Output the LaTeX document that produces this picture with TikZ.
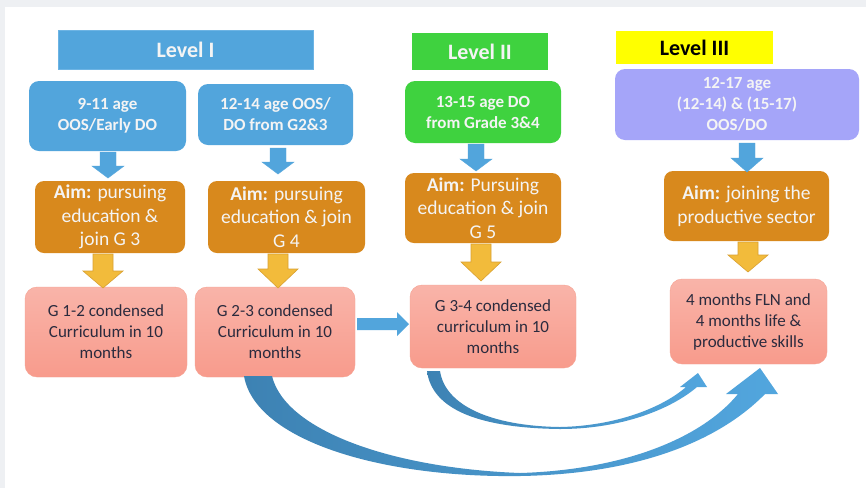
\documentclass[tikz,border=0pt]{standalone}
\usepackage{fontspec}
\setmainfont{Carlito}
\usepackage{tikz}
\usetikzlibrary{positioning}

\definecolor{lvlblue}{HTML}{52A5DC}
\definecolor{lvledge}{HTML}{6DB4E4}
\definecolor{lvlgreen}{HTML}{3FD23F}
\definecolor{lvlyellow}{HTML}{FFFF00}
\definecolor{lavender}{HTML}{A5A5F9}
\definecolor{aimorange}{HTML}{D8891D}
\definecolor{arrowyellow}{HTML}{F2BB3B}
\definecolor{arrowedge}{HTML}{D9A132}
\definecolor{pinktop}{HTML}{F9B4A9}
\definecolor{pinkbot}{HTML}{F89B8C}
\definecolor{pinkedge}{HTML}{F5A292}
\definecolor{darkarc}{HTML}{3D82B3}
\definecolor{lightarc}{HTML}{52A6DE}
\definecolor{paper}{HTML}{EEF0F3}
\definecolor{boxtext}{HTML}{F4F4F4}
\definecolor{inktext}{HTML}{2B2B3E}

% block arrow pointing down: style, x, top, head base, tip, shaft half, head half
\newcommand{\blockdown}[7]{%
  \draw[#1] (#2-#6,#3) -- (#2+#6,#3) -- (#2+#6,#4) -- (#2+#7,#4)
    -- (#2,#5) -- (#2-#7,#4) -- (#2-#6,#4) -- cycle;}

\begin{document}
\begin{tikzpicture}
    [ x=1pt, y=-1pt,
    every node/.style={align=center, inner sep=2pt},
    header/.style={font=\fontsize{22}{26}\selectfont\bfseries, text=boxtext},
    agebox/.style={rounded corners=10pt, font=\fontsize{17}{21}\selectfont\bfseries, text=boxtext},
    aimbox/.style={rounded corners=9pt, fill=aimorange, font=\fontsize{19.5}{23.5}\selectfont, text=boxtext},
    plan/.style={rounded corners=12pt, top color=pinktop, bottom color=pinkbot, draw=pinkedge,
      font=\fontsize{17}{21}\selectfont, text=inktext},
    bluearrow/.style={fill=lvlblue, draw=lvlblue},
    yellowarrow/.style={fill=arrowyellow, draw=arrowedge, line width=0.6pt},
    curved/.style={left color=darkarc, right color=lightarc}
    ]

    \useasboundingbox (0,0) rectangle (866,488);
    \fill[paper] (0,0) rectangle (866,488);
    \fill[white] (5,7) rectangle (866,488);

    % level headers
    \node[header, fill=lvlblue, draw=lvledge, minimum width=255pt, minimum height=39pt] (L1) at (185.5,49.5) {Level I};
    \node[header, fill=lvlgreen, minimum width=136pt, minimum height=37pt] (L2) at (480,51.5) {Level II};
    \node[header, fill=lvlyellow, text=black, minimum width=157pt, minimum height=33pt] (L3) at (694.5,47.5) {Level III};

    % target groups
    \node[agebox, fill=lvlblue, minimum width=157pt, minimum height=70pt] (A1) at (107.5,116) {9-11 age\\OOS/Early DO};
    \node[agebox, fill=lvlblue, minimum width=155pt, minimum height=61pt] (A2) at (275.5,114.5) {12-14 age OOS/\\DO from G2\&3};
    \node[agebox, fill=lvlgreen, minimum width=156pt, minimum height=62pt] (A3) at (483,112) {13-15 age DO\\from Grade 3\&4};
    \node[agebox, fill=lavender, minimum width=244pt, minimum height=71pt] (A4) at (737,104.5) {12-17 age\\(12-14) \& (15-17)\\OOS/DO};

    % aims
    \node[aimbox, minimum width=150pt, minimum height=72pt] (B1) at (110,217) {\textbf{Aim:} pursuing\\education \&\\join G 3};
    \node[aimbox, minimum width=157pt, minimum height=72pt] (B2) at (286.5,217) {\textbf{Aim:} pursuing\\education \& join\\G 4};
    \node[aimbox, minimum width=156pt, minimum height=70pt] (B3) at (483,208) {\textbf{Aim:} Pursuing\\education \& join\\G 5};
    \node[aimbox, minimum width=165pt, minimum height=70pt] (B4) at (746.5,206) {\textbf{Aim:} joining the\\productive sector};

    % programmes
    \node[plan, minimum width=162pt, minimum height=90pt] (C1) at (106,332) {G 1-2 condensed\\Curriculum in 10\\months};
    \node[plan, minimum width=160pt, minimum height=90pt] (C2) at (275,332) {G 2-3 condensed\\Curriculum in 10\\months};
    \node[plan, minimum width=166pt, minimum height=83pt] (C3) at (493,326.5) {G 3-4 condensed\\curriculum in 10\\months};
    \node[plan, minimum width=157pt, minimum height=85pt] (C4) at (748.5,321.5) {4 months FLN and\\4 months life \&\\productive skills};

    \blockdown{bluearrow}{108}{152}{166}{178}{8}{16}
    \blockdown{bluearrow}{278}{148}{162}{174}{8}{16}
    \blockdown{bluearrow}{476}{144}{159}{171}{8}{16}
    \blockdown{bluearrow}{747}{143}{158}{172}{8}{16}

    \blockdown{yellowarrow}{103}{254}{271}{288}{10}{20}
    \blockdown{yellowarrow}{278}{254}{269}{288}{10}{20}
    \blockdown{yellowarrow}{481}{244}{262}{281}{10}{20}
    \blockdown{yellowarrow}{748}{242}{255}{272}{10}{20}

    % C2 to C3
    \fill[lvlblue] (357,318) -- (397,318) -- (397,312) -- (409,324) -- (397,336)
      -- (397,330) -- (357,330) -- cycle;

    % long arcs to C4
    \shade[curved] (244,376) .. controls (255,440) and (380,478) .. (520,476)
      .. controls (640,474) and (720,440) .. (765,394)
      -- (778,394) -- (760,368) -- (726,394) -- (738,394)
      .. controls (700,440) and (620,470) .. (520,473)
      .. controls (390,468) and (285,430) .. (272,376) -- cycle;
    \shade[curved] (427,371) .. controls (432,410) and (480,428) .. (560,429)
      .. controls (620,429) and (670,410) .. (697,387)
      -- (707,387) -- (698,373) -- (680,387) -- (686,387)
      .. controls (662,408) and (615,426) .. (560,427)
      .. controls (490,426) and (445,405) .. (440,371) -- cycle;
\end{tikzpicture}
\end{document}
